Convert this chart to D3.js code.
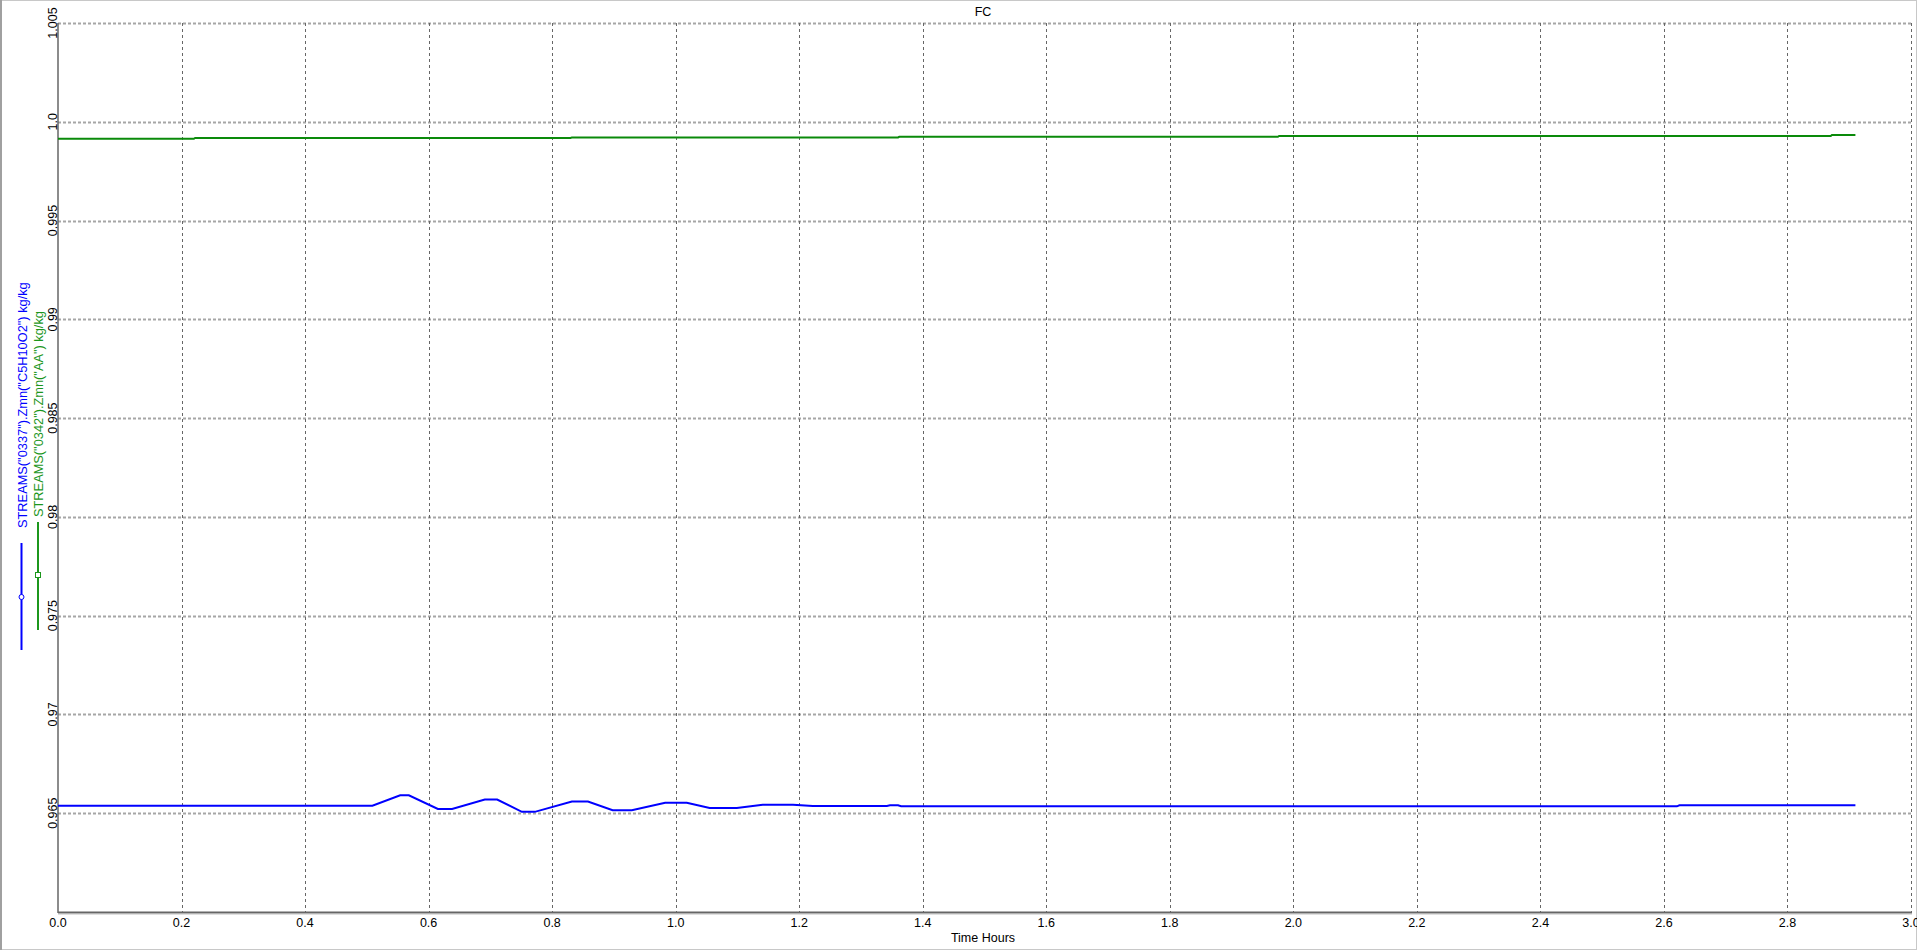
<!DOCTYPE html>
<html>
<head>
<meta charset="utf-8">
<script src="https://cdn.jsdelivr.net/npm/d3@7"></script>
<style>
html,body{margin:0;padding:0;background:#fff;}
svg{display:block;font-family:"Liberation Sans",Arial,sans-serif;}
</style>
</head>
<body>
<svg id="chart" width="1917" height="950"></svg>
<script>
// ---- data ----
const chartTitle = "FC";
const xAxisTitle = "Time Hours";
const xTickValues = [0,0.2,0.4,0.6,0.8,1.0,1.2,1.4,1.6,1.8,2.0,2.2,2.4,2.6,2.8,3.0];
const xTickLabels = ["0.0","0.2","0.4","0.6","0.8","1.0","1.2","1.4","1.6","1.8","2.0","2.2","2.4","2.6","2.8","3.0"];
const yTickValues = [0.965,0.97,0.975,0.98,0.985,0.99,0.995,1.0,1.005];
const yTickLabels = ["0.965","0.97","0.975","0.98","0.985","0.99","0.995","1.0","1.005"];

const seriesNames = ['STREAMS("0337").Zmn("C5H10O2") kg/kg','STREAMS("0342").Zmn("AA") kg/kg'];
const seriesColors = ["#0000ff","#0a8a0a"];

const blueTime = [0.0,0.509,0.554,0.568,0.615,0.638,0.691,0.711,0.751,0.772,0.832,0.858,0.898,0.929,0.983,1.018,1.055,1.099,1.141,1.190,1.222,1.342,1.347,1.360,1.365,2.621,2.625,2.910];
const blueValue = [0.96538,0.96538,0.96591,0.96591,0.96522,0.96522,0.96569,0.96569,0.96507,0.96507,0.96559,0.96559,0.96515,0.96515,0.96553,0.96553,0.96527,0.96527,0.96543,0.96543,0.96537,0.96537,0.96540,0.96540,0.96535,0.96535,0.96540,0.96540];

const greenTime = [0.0,0.220,0.222,0.830,0.832,1.360,1.362,1.975,1.977,2.870,2.872,2.910];
const greenValue = [0.99914,0.99914,0.99918,0.99918,0.99921,0.99921,0.99924,0.99924,0.99928,0.99928,0.99933,0.99933];

// ---- layout ----
const svg = d3.select("#chart");
const W = 1917, H = 950;
const mLeft = 58, mRight = 1911, mTop = 23, mBottom = 912;

const x = d3.scaleLinear().domain([0,3.0]).range([mLeft,mRight]);
const y = d3.scaleLinear().domain([0.96,1.005]).range([mBottom,mTop]);

// frame
svg.append("rect").attr("x",0.5).attr("y",0.5).attr("width",W-1).attr("height",H-1)
  .attr("fill","none").attr("stroke","#c8c8c8").attr("stroke-width",1);
svg.append("line").attr("x1",1).attr("x2",1).attr("y1",0).attr("y2",H)
  .attr("stroke","#a0a0a0").attr("stroke-width",2);

// grid
svg.append("g").selectAll("line").data(yTickValues).join("line")
  .attr("x1",mLeft).attr("x2",mRight)
  .attr("y1",d=>Math.round(y(d))+0.5).attr("y2",d=>Math.round(y(d))+0.5)
  .attr("stroke","#a6a6a6").attr("stroke-width",2).attr("stroke-dasharray","3,2");
svg.append("g").selectAll("line").data(xTickValues.slice(1)).join("line")
  .attr("x1",d=>Math.round(x(d))+0.5).attr("x2",d=>Math.round(x(d))+0.5)
  .attr("y1",mTop).attr("y2",mBottom)
  .attr("stroke","#666").attr("stroke-width",1).attr("stroke-dasharray","3,3");

// axes lines
svg.append("line").attr("x1",mLeft).attr("x2",mLeft).attr("y1",mTop).attr("y2",mBottom+1)
  .attr("stroke","#666").attr("stroke-width",1.5);
svg.append("line").attr("x1",mLeft).attr("x2",mRight+1).attr("y1",mBottom+0.5).attr("y2",mBottom+0.5)
  .attr("stroke","#666").attr("stroke-width",2);
svg.append("line").attr("x1",mLeft).attr("x2",mRight+1).attr("y1",mBottom+2.5).attr("y2",mBottom+2.5)
  .attr("stroke","#e0e0e0").attr("stroke-width",1);

// y tick labels (rotated)
svg.append("g").selectAll("text").data(yTickValues).join("text")
  .attr("transform",d=>`translate(${mLeft-1},${y(d)}) rotate(-90)`)
  .attr("text-anchor","middle").attr("font-size",12.5).attr("fill","#000")
  .text((d,i)=>yTickLabels[i]);

// x tick labels
svg.append("g").selectAll("text").data(xTickValues).join("text")
  .attr("x",d=>x(d)).attr("y",927)
  .attr("text-anchor","middle").attr("font-size",12.5).attr("fill","#000")
  .text((d,i)=>xTickLabels[i]);

// titles
svg.append("text").attr("x",983).attr("y",16).attr("text-anchor","middle")
  .attr("font-size",12.5).attr("fill","#000").text(chartTitle);
svg.append("text").attr("x",983).attr("y",942).attr("text-anchor","middle")
  .attr("font-size",12.5).attr("fill","#000").text(xAxisTitle);

// series lines
const line = d3.line().x(d=>x(d[0])).y(d=>y(d[1]));
const blueData = blueTime.map((t,i)=>[t,blueValue[i]]);
const greenData = greenTime.map((t,i)=>[t,greenValue[i]]);
svg.append("path").datum(greenData).attr("d",line).attr("fill","none")
  .attr("stroke",seriesColors[1]).attr("stroke-width",2);
svg.append("path").datum(blueData).attr("d",line).attr("fill","none")
  .attr("stroke",seriesColors[0]).attr("stroke-width",2);

// legend (rotated, left side)
const lg = [
  {name:seriesNames[0], color:seriesColors[0], tx:26.5, tyEnd:528, lx:21.5, l1:543, l2:650, m:597, shape:"circle"},
  {name:seriesNames[1], color:"#1c961c", tx:42.5, tyEnd:517, lx:38, l1:522, l2:630, m:575, shape:"square"}
];
lg.forEach(d=>{
  svg.append("text").attr("transform",`translate(${d.tx},${d.tyEnd}) rotate(-90)`)
    .attr("text-anchor","start").attr("font-size",12.8).attr("fill",d.color).text(d.name);
  svg.append("line").attr("x1",d.lx).attr("x2",d.lx).attr("y1",d.l1).attr("y2",d.l2)
    .attr("stroke",d.color).attr("stroke-width",2);
  if(d.shape==="circle"){
    svg.append("circle").attr("cx",d.lx).attr("cy",d.m).attr("r",2.5)
      .attr("fill","#fff").attr("stroke",d.color).attr("stroke-width",1);
  } else {
    svg.append("rect").attr("x",d.lx-2.5).attr("y",d.m-2.5).attr("width",5).attr("height",5)
      .attr("fill","#fff").attr("stroke",d.color).attr("stroke-width",1);
  }
});
</script>
</body>
</html>
